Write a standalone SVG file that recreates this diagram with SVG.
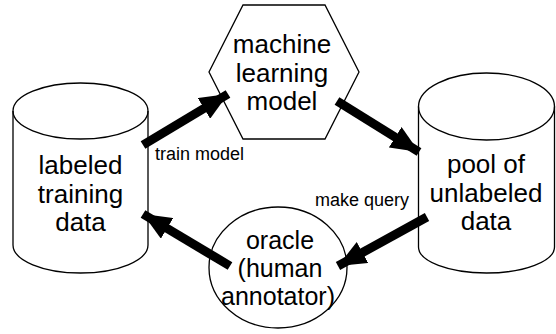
<svg xmlns="http://www.w3.org/2000/svg" width="556" height="334" viewBox="0 0 556 334">
  <defs>
    <marker id="head" markerUnits="userSpaceOnUse" markerWidth="30" markerHeight="24" refX="28" refY="12" orient="auto">
      <path d="M0,0 L28,12 L0,24 Z" fill="#000"/>
    </marker>
    <style>
      .shape { fill: #fff; stroke: #000; stroke-width: 1.3; }
      .edge { fill: none; stroke: #000; stroke-width: 1.3; }
      .label { font-family: "Liberation Sans", Arial, sans-serif; font-size: 26px; fill: #000; text-anchor: middle; }
      .oracle-text { font-size: 25px; }
      .small { font-family: "Liberation Sans", Arial, sans-serif; font-size: 18px; fill: #000; }
      .arrow { stroke: #000; stroke-width: 9; fill: none; marker-end: url(#head); }
    </style>
  </defs>

  <!-- labeled training data store -->
  <g id="training-data">
    <path class="shape" d="M13,111 L13,245 A67.5,28 0 0 0 148,245 L148,111 A67.5,28 0 0 0 13,111 Z"/>
    <path class="edge" d="M13,111 A67.5,28 0 0 0 148,111"/>
    <text class="label" x="80.5" y="174">labeled</text>
    <text class="label" x="80.5" y="202.5">training</text>
    <text class="label" x="80.5" y="231">data</text>
  </g>

  <!-- model -->
  <g id="model">
    <polygon class="shape" points="243,5 325,5 359,72 325,139 243,139 209,72"/>
    <text class="label" x="282" y="53">machine</text>
    <text class="label" x="282" y="81.5">learning</text>
    <text class="label" x="282" y="110">model</text>
  </g>

  <!-- unlabeled pool store -->
  <g id="unlabeled-pool">
    <path class="shape" d="M418.5,106.5 L418.5,247 A68,26 0 0 0 554.5,247 L554.5,106.5 A68,33.5 0 0 0 418.5,106.5 Z"/>
    <path class="edge" d="M418.5,106.5 A68,33.5 0 0 0 554.5,106.5"/>
    <text class="label" x="486" y="173">pool of</text>
    <text class="label" x="486" y="201.5">unlabeled</text>
    <text class="label" x="486" y="230">data</text>
  </g>

  <!-- oracle -->
  <g id="oracle">
    <ellipse class="shape" cx="278" cy="267.5" rx="69" ry="60.5"/>
    <text class="label oracle-text" x="280" y="248.5">oracle</text>
    <text class="label oracle-text" x="280" y="276.5">(human</text>
    <text class="label oracle-text" x="278" y="304.5">annotator)</text>
  </g>

  <!-- cycle connectors -->
  <g id="connectors">
    <line class="arrow" x1="143" y1="145" x2="228" y2="94"/>
    <line class="arrow" x1="337" y1="101" x2="419" y2="152"/>
    <line class="arrow" x1="427" y1="217" x2="338" y2="266"/>
    <line class="arrow" x1="230" y1="266" x2="143" y2="214"/>
    <text class="small" x="155" y="160">train model</text>
    <text class="small" x="315" y="206">make query</text>
  </g>
</svg>
